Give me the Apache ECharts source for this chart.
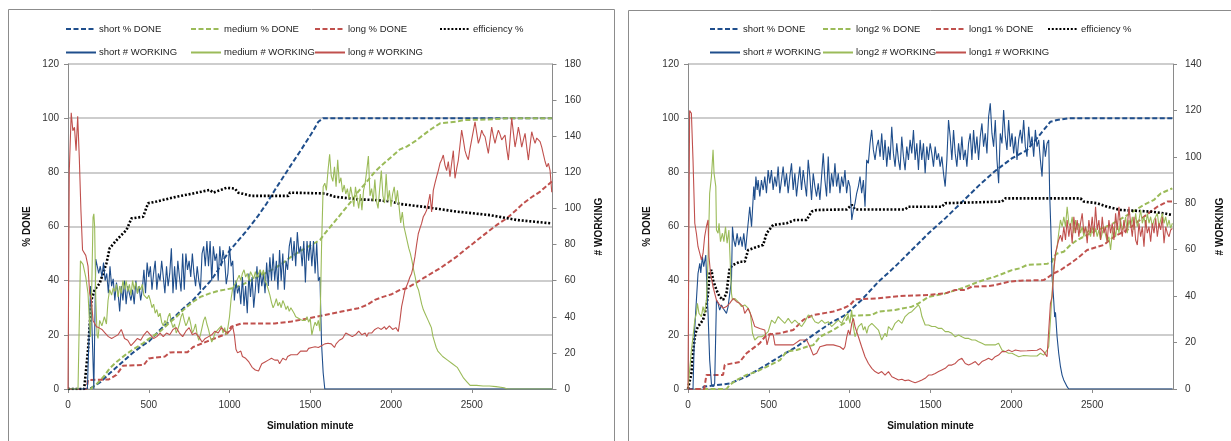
<!DOCTYPE html>
<html><head><meta charset="utf-8">
<script src="https://cdn.jsdelivr.net/npm/echarts/dist/echarts.min.js"></script>
<style>html,body{margin:0;padding:0;background:#fff}#c{width:1231px;height:441px}</style>
</head><body><div id="c"></div>
<script>
// helper: turn a run of readings taken at a regular minute step into [minute, value] pairs
function run(start, step, vals){ return vals.map(function(v,i){ return [Math.round((start+i*step)*10)/10, v]; }); }

// ---------------- LEFT PANEL (short / medium / long) ----------------
const shortDoneL = [[0,0],[130,0],[160,1],[200,2.5],[258,5.8],[300,8],[362,11.3],[400,13.3],[465,16.2],[500,17.5],[569,21.8],[600,23.5],[672,27.3],[700,29],[775,32.9],[800,34.5],[878,39.6],[920,43],[960,47.5],[1000,51],[1050,54.5],[1100,58],[1178,64],[1230,68.5],[1281,73.5],[1330,78],[1384,83],[1440,88],[1488,92.5],[1520,95.5],[1550,98.7],[1580,100],[2996,100]];
const mediumDoneL = [[0,0],[140,0],[180,2],[220,4.5],[258,7.6],[300,10],[362,12.9],[400,14.5],[465,16.9],[500,18.5],[569,21.2],[620,24],[672,26.7],[720,29.5],[775,32.2],[820,34],[878,35.3],[930,36.2],[982,36.8],[1033,37.4],[1074,38.4],[1130,40],[1178,41.5],[1230,43],[1281,44.6],[1330,46.5],[1384,48.9],[1440,51],[1488,52.6],[1530,54],[1560,55],[1591,57.5],[1640,61],[1694,64.9],[1750,69],[1797,72.9],[1850,76.5],[1900,80.2],[1950,83],[2004,85.8],[2056,88.5],[2097,89.5],[2150,91.5],[2200,93.8],[2250,96],[2304,98.1],[2407,98.7],[2448,99.3],[2600,99.5],[2717,100],[2996,100]];
const longDoneL = [[0,0],[115,0],[124,3.3],[250,3.5],[300,5.2],[340,8.6],[470,8.9],[500,11.3],[600,12],[630,13.5],[740,13.6],[775,15.5],[858,17.5],[930,19.2],[985,20.5],[1010,23],[1074,24.2],[1281,24.2],[1384,24.9],[1488,26.1],[1591,27.3],[1694,28.6],[1797,29.8],[1850,31],[1900,32.9],[1950,34],[2004,35],[2056,36.6],[2097,37.2],[2150,39],[2200,40.9],[2250,42.7],[2304,44.6],[2350,46.5],[2407,48.9],[2460,51.5],[2510,53.8],[2560,56.2],[2614,58.7],[2660,60.8],[2717,63],[2770,65.8],[2820,68.6],[2870,70.8],[2924,72.9],[2960,74.8],[2996,76.6]];
const efficiencyL = [[0,0],[100,0],[124,14.4],[145,32.9],[165,36.6],[196,39],[238,46.4],[258,52],[310,55.6],[362,58.7],[393,63],[465,63.6],[496,68.6],[548,69.2],[630,70.4],[672,71],[775,72.2],[878,73.5],[899,72.5],[982,74.3],[1033,74],[1054,72.5],[1137,71.3],[1364,71.3],[1374,72.5],[1591,72.2],[1653,71],[1797,70],[1900,69.8],[2004,69.2],[2056,68.3],[2200,67.3],[2407,65.5],[2614,64.2],[2779,62.4],[2986,61.2]];

const shortWorkL = [[0,0],[120,0],[140,57],[150,30],[160,0],[172,72]].concat(
  run(180,10,[73,64,68,62,70,60,64,53,68,57,61,49,59,53,43,57,49,60,47,57,53,49,55,47,60,53,57,49,55]),
  run(470,10,[66,53,70,62,68,55,64,71,55,64,60,71,62,53,68,57,64,78,53,68,55,71,62,54,75,55,75,66,71,62,75,64,57,68,60,55,75,79,68,82,68,82,60,79,71,75,60,79,68,77,71,58,64,79,68,71]),
  run(1030,10,[49,60,53,57,47,62,46,57,42,64,51,62,45,55,68,53,66,57,64,53,70,57,73]),
  run(1260,10,[60,75,60,71,55,77,60,75,55,71,66,79,84,71,82,68,87,75,79,68,82,59,82,71,82,68,82,64,81,60]),
  [[1560,62],[1570,25],[1580,9],[1590,0],[2996,0]]);

const mediumWorkL = [[0,0],[62,0],[77,71],[93,69],[110,62],[124,53],[130,42],[139,29],[148,60],[155,95],[160,97],[165,90],[172,50],[180,30],[186,28],[196,38],[210,35],[225,40],[238,36],[248,49],[258,55],[270,52],[280,56]].concat(
  run(290,10,[54,58,51,57,53,60,55,60,54,58, 52,60,55,59,53,57,55,58,52,53, 50,52,49,45,47,42,44,40,42,37,
    35,38,36,40,42,37,34,36,31,33, 36,40,42,38,35,37,40,36,31,33, 36,30,27,30,34,38,40,36,33,29,
    26,28,31,30,33,32,35,31,34,30, 34,40,50,56,55,59,61,63,60,64, 66,62,64,60,65,63,61,65,62,64,
    66,63,66,60,58,55,52,48,45,47, 50,46,48,45,49,47,44,46,43,45, 44,42,40,41,39,40,38,39,38,40,
    37,39,30,34,37,35,38,32,79,112, 114,110,121,130,118,115,123,112,127,114, 117,109,113,108,111,105,112,107,101,112,
    106,100,108,99,110,114,121,129,107,111, 104,116,104,100,111,121,107,103,119,104, 110,101,108,112,103,110,101,92,98,90,
    86,82,78,75,71,66,62,57,55,51, 47,44,42,41,38,36,34,29,26,23, 21,20]),
  [[2320,18],[2350,16],[2380,14],[2410,12],[2430,9],[2450,6],[2470,4],[2490,2],[2530,2],[2570,1.7],[2610,1.7],[2650,1.3],[2700,0.7],[2720,0],[2996,0]]);

const longWorkL = [[0,0],[5,0],[8,121],[20,153],[30,143],[40,145],[50,132],[60,151],[70,128],[80,99],[90,77],[100,76],[110,74],[124,68],[134,53],[145,49],[155,38],[176,34.5]].concat(
  run(190,20,[34,33,31,29,28,29,30,33,28,27, 24,26,28,27,30,32,30,28,29,31, 29,31,30,33,34,31,29,32,34,30, 31,29,26,28,29,30,32,31,34,32, 31,33]),
  run(1020,10,[34.5,30,22,20,19,21,18,19,17,18, 15,14,12,13,10.5,11,10,12,14,13, 15,14,16,16,17,18,16,15,16,14,
    15,17,17,16,18,18,19,20,19,20, 19,20,21,21.6,21,22,21,22.5,22,23, 22,23.4,24,23,24,24,23,25,24,25.3,
    26,25,24,23,25,26,27,27,28,29, 31,30.8,30,31,29,29,30,31,32,31.8, 30,29,31,29,31,32,31,32,33,32,
    34,33.6,33,34,34.5,33,34,35,34,33, 34,34]),
  run(2045,10.33,[31.8,38,45.6,50,54.8,57,59.4,62,64,68, 73.3,80,86,89,91.7,95.4,97,99,103,108,
    98,110,114,117.6,121,125,127,129.6,124,121, 126,117.6,125,132,116.7,122,126.8,135,143.4,138,
    132,129,127,133,138,143,148,142,136,139, 143.4,141,139.7,135,130.5,138,145,140,136,140,
    143.4,141,138,137,140.7,133,126.8,138,150,142, 134,139,145,140,134,138,141.6,134,126.8,135,
    142.5,139,136,139,140,137,134,130,126,123, 125,121,109]));

// ---------------- RIGHT PANEL (short / long2 / long1) ----------------
const shortDoneR = [[0,0],[80,0],[100,0.9],[258,2],[362,4.6],[465,8.2],[569,12],[672,15.6],[775,20],[878,24.2],[971,27.3],[1074,32.9],[1178,39.6],[1281,45.2],[1384,51.3],[1488,57.5],[1591,63],[1694,69],[1797,75],[1900,80.5],[2004,85.2],[2097,88.2],[2159,92.6],[2200,95.6],[2242,98.7],[2283,99.3],[2355,100],[2996,100]];
const long2DoneR = [[0,0],[238,0],[258,1.5],[300,3.3],[362,5.2],[424,6.4],[486,8.2],[569,10.7],[610,13.8],[672,14.4],[734,15.6],[775,16.2],[816,19.3],[899,21.8],[971,24.5],[992,27],[1137,27.3],[1178,28.6],[1281,29.2],[1384,30.4],[1426,31.6],[1488,34],[1591,35.3],[1694,37.2],[1797,39.6],[1900,41.5],[2004,43.9],[2056,44.6],[2097,45.8],[2221,46.2],[2252,47],[2262,48.9],[2283,50],[2324,50.7],[2366,53.2],[2407,55],[2469,56.9],[2531,58.7],[2614,60.6],[2717,64.2],[2820,68],[2882,69.8],[2924,72.2],[2996,74.1]];
const long1DoneR = [[0,0],[100,0],[114,5.2],[217,5.2],[227,8.9],[320,10],[362,13.2],[444,16.9],[486,20],[568,20.6],[651,21.8],[713,25.5],[775,27.3],[899,28.6],[961,29.8],[1002,31],[1033,33.1],[1178,33.5],[1302,34.3],[1488,34.7],[1591,35.3],[1653,36.6],[1715,36.6],[1756,37.8],[1859,38],[1900,38.4],[1983,39.6],[2056,40],[2200,40.2],[2221,41],[2262,42.7],[2304,43.9],[2366,46.4],[2407,48.2],[2469,51.3],[2572,53.2],[2634,56.2],[2717,58.7],[2820,63.6],[2903,67.3],[2965,69.2],[2996,69.2]];
const efficiencyR = [[0,0],[10,0],[21,5.8],[31,13.2],[42,19.3],[52,21.8],[62,23],[93,25.5],[114,30.4],[124,35.3],[134,42.7],[145,44],[155,40.2],[176,36.6],[196,34],[217,32.9],[238,35.3],[248,40.2],[258,44.6],[279,45.8],[320,47],[351,47],[372,51.3],[403,52],[465,53.2],[486,57.5],[527,60.6],[610,61.2],[662,62.4],[734,62.4],[765,65.5],[796,66.1],[982,66.3],[1013,68],[1033,66.3],[1343,66.3],[1364,67.3],[1570,67.3],[1591,68.6],[1942,69.2],[1963,70.4],[2428,70.4],[2448,69.2],[2531,68.6],[2593,67.3],[2676,66.1],[2862,65.5],[2944,64.9],[2996,64.2]];

const shortWorkR = [[0,0],[31,0],[40,24],[52,38.3],[62,49.8],[73,54.1],[79,50],[89,57],[97,52.7],[110,57.7],[118,41.2],[124,32.6],[134,12.5],[145,2.2],[155,1],[165,2.4],[176,38.3],[186,36.9],[196,34],[207,36.2],[217,34.8],[227,35.5],[238,32.6],[248,35.5],[258,35.5],[269,47],[275,69.9],[283,64.2],[293,61.3],[304,67.1],[314,62],[325,65.6],[335,61.3],[345,67.1],[356,59.9],[366,67.1],[376,74.2],[382,78.5],[393,69.9],[399,77.1],[407,87.2],[413,81.4],[420,91.5],[428,85.7],[434,90]].concat(
  run(444,10.33,[82.9,90,85.7,91.5,84.3,94.3,88.6,94.3,85.7,91.5, 87.2,95.8,84.3,90,95.8,87.2,92.9,84.3,91.5,97.2,
    85.7,92.9,82.9,90,95.8,85.7,94.3,88.6,82.9,98.7, 91.5,81.4,92.9,87.2,82.9,88.6,81.4,91.5,101.5,90,
    82.9,100.1,84.3,92.9,87.2,97.2,87.2,92.9,84.3,91.5, 87.2,94.3,84.3,90,87.2]),
  [[1013,72.8],[1023,77.1]],
  run(1033,10.33,[80,84.3,87.2,91.5,84.3,90,78.5,98.7,97.2,105.8, 111.6,103,98.7,104.4,107.3,100.1,110.1,98.7,107.3,95.8,
    104.4,98.7,113,101.5,95.8,105.8,98.7,94.3,108.7,100.1, 94.3,104.4,98.7,107.3,101.5,111.6,98.7,105.8,94.3,107.3,
    98.7,105.8,92.9,104.4,98.7,105.8,101.5,95.8,104.4,98.7, 101.5,95.8,100.1,92.9,87.2,98.7,115.9,108.7,98.7,111.6,
    101.5,95.8,105.8,98.7,108.7,98.7,103,95.8,105.8,110.1, 98.7,111.6,101.5,108.7,98.7,108.7,114.4,104.4,110.1,101.5,
    117.3,123.1,110.1,104.4,115.9,98.7,88.6,110.1,105.8,120.2, 108.7,103,115.9,104.4,110.1,101.5,108.7,98.7,107.3,
    111.6,105.8,115.9,104.4,100.1,113,104.4,108.7,100.1,111.6, 104.4,107.3,98.7,91.5,107.3,100.1,105.8,107.3]),
  [[2237,84.3],[2244,69.9],[2252,48.4],[2262,38.3],[2268,31],[2273,33],[2283,22.5],[2293,15.4],[2304,9.6],[2314,6],[2324,3.9],[2335,2.4],[2345,1],[2355,0],[2996,0]]);

const long2WorkR = [[0,0],[4,0],[21,16.8],[31,22.5],[42,29.7],[52,32.6],[58,36.9],[68,32.6],[83,31.2],[93,35.5],[103,32.6],[114,38.3],[124,55.6],[134,84.3],[145,91.5],[155,103],[161,93],[172,87.2],[176,68.5],[186,67.1],[192,71.4],[201,63.5],[213,67.1],[222,63.5],[232,69.9],[242,62.8],[253,68.5],[263,69.2],[269,41.2],[275,38.3],[289,39],[310,37.6],[331,35.5],[351,36.2],[372,34.8],[386,32.6],[399,24],[413,21.1],[434,22.5],[455,22.5],[475,23.3],[496,24.7],[517,29.7],[538,28.3],[558,31.2],[579,29.7],[599,28.3],[620,30.4],[641,28.3],[661,29.7],[682,28.3],[703,26.9],[723,29],[744,31.9],[765,31.2],[785,29],[806,28.3],[827,29.7],[847,28.3],[868,29],[888,26.9],[909,28.3],[930,29.7],[951,28.3],[971,31.2],[988,32.6],[1002,28.3],[1012,34],[1023,26.9],[1033,22.5],[1054,26.9],[1074,28.3],[1085,25.4],[1095,26.9],[1106,24],[1116,26.9],[1137,28.3],[1157,26.9],[1178,25.4],[1198,21.1],[1219,24],[1229,22.5],[1240,26.9],[1261,25.4],[1281,28.3],[1302,29.7],[1323,28.3],[1343,31.2],[1364,32.6],[1384,33.3],[1405,34.8],[1426,36.2],[1436,34.8],[1447,31.2],[1467,27.6],[1488,27.6],[1508,26.9],[1529,26.9],[1550,26.1],[1570,26.1],[1591,24.7],[1612,24.7],[1632,24],[1653,22.5],[1674,23.3],[1694,22.5],[1715,21.8],[1736,21.8],[1756,21.1],[1777,21.1],[1797,20.4],[1818,19.7],[1839,19],[1859,19],[1880,19],[1900,19],[1921,19.7],[1942,16.8],[1963,16.1],[1983,15.4],[2004,15.4],[2025,14.6],[2046,13.9],[2076,14.4],[2118,14.2],[2159,14.2],[2180,15.4],[2200,14.6],[2221,16.8],[2231,18.2],[2242,29.7],[2252,41.2],[2262,52.7],[2273,57.7],[2283,61.3],[2293,67.1]].concat(
  run(2304,10.33,[72.8,69.9,74.2,69.9,78.5,71.4,69.9,74.2,67.1,72.8, 68.5,71.4,67.1,69.9,65.6,69.9,67.1,68.5,65.6,69.9,
    67.1,69.2,65.6,68.5,64.2,67.1,69.9,66.3,63.5,65.6, 59.9,67.1,69.9,65.6,71.4,67.1,72.8,68.5,69.9,74.2,
    67.1,72.8,69.9,74.2,68.5,75.7,69.9,72.8,77.1,71.4, 74.2,69.9,75.7,71.4,74.2,69.9,72.8,74.2,75.7,69.9,
    72.8,75.7,71.4,74.2,69.9,72.8,69.2,71.4]));

const long1WorkR = [[0,0],[4,0],[10,120],[21,118.8],[31,98.7],[42,71.4],[52,67],[62,61.3],[73,58.4],[83,55.6],[93,58.4],[103,65.6],[114,70],[124,72.8],[130,57],[139,49.8],[155,44],[176,38.3],[196,36.2],[217,34.8],[238,35.5],[258,36.9],[279,39],[300,37.6],[320,36.9],[341,35.5],[351,32.6],[372,34.8],[393,31.2],[413,26.9],[444,26.1],[475,25.4],[489,19],[507,24],[527,23.3],[538,19],[568,19],[610,19],[651,19],[693,21.1],[734,21.1],[754,18.2],[775,14.6],[796,15.4],[816,18.2],[858,19],[899,19],[940,18.2],[961,17],[971,18.2],[982,22.5],[992,25.4],[1002,23.3],[1013,28.3],[1023,30.4],[1033,26.9],[1054,22.5],[1074,18.2],[1095,13.9],[1116,11],[1137,8.9],[1157,7.5],[1178,6.7],[1198,7.5],[1219,6],[1240,7.5],[1261,5.3],[1281,4.6],[1302,3.9],[1323,4.2],[1343,3.6],[1364,3.9],[1384,3.2],[1405,2.7],[1426,3.2],[1447,3.9],[1467,4.6],[1488,6],[1508,6],[1529,6.7],[1550,7.5],[1570,8.2],[1591,8.9],[1612,10.3],[1632,10.3],[1653,11],[1674,12.5],[1694,13.2],[1715,11],[1736,10.3],[1756,11],[1777,11.8],[1797,10.3],[1818,11.8],[1839,12.5],[1859,13.2],[1880,12.5],[1900,13.9],[1921,14.6],[1942,16.1],[1963,16.1],[1983,16.8],[2004,16.1],[2025,16.8],[2056,16.4],[2097,16.5],[2159,16.7],[2180,17.4],[2200,16.1],[2221,13.9],[2231,14.6],[2242,36.9],[2252,39.8],[2262,49.8],[2273,58.4],[2283,61.3],[2293,64.2]].concat(
  run(2304,10.33,[66.3,63.5,69.9,64.2,72.8,65.6,71.4,62.8,74.2,67.1, 72.8,65.6,71.4,75.7,67.1,69.9,62.8,72.8,67.1,74.2,
    65.6,78.5,68.5,72.8,64.2,74.2,67.1,69.9,63.5,72.8, 67.1,71.4,64.2,75.7,68.5,78.5,69.9,65.6,72.8,67.1,
    69.9,78.5,71.4,65.6,74.2,64.2,62,71.4,65.6,69.9, 61.3,72.8,67.1,69.9,63.5,71.4,67.1,73.5,65.6,71.4,
    68.5,74.2,62.8,69.9,67.1,65.6,68.5,69.2]));

// ---------------- labels ----------------
const legendLeft = ['short % DONE','medium % DONE','long % DONE','efficiency %','short # WORKING','medium # WORKING','long # WORKING'];
const legendRight = ['short % DONE','long2 % DONE','long1 % DONE','efficiency %','short # WORKING','long2 # WORKING','long1 # WORKING'];
const xTitle = 'Simulation minute';
const yTitleLeft = '% DONE';
const yTitleRight = '# WORKING';

// ---------------- chart ----------------
const FONT = "'Liberation Sans',Arial,sans-serif";
const BLUE = '#1f4e8c', GREEN = '#9bbb59', RED = '#c0504d', AX = '#8a8a8a';

function xAx(g){
  return {gridIndex:g, type:'value', min:0, max:3000, interval:500,
    axisLine:{show:true, lineStyle:{color:AX, width:1}},
    axisTick:{show:true, length:4, lineStyle:{color:AX}},
    axisLabel:{fontSize:10, color:'#333', margin:11, fontFamily:FONT, showMaxLabel:false, formatter:function(v){ return String(v); }},
    splitLine:{show:false},
    name:xTitle, nameLocation:'middle', nameGap:32,
    nameTextStyle:{fontWeight:'bold', fontSize:10, color:'#111', fontFamily:FONT}};
}
function yPct(g){
  return {gridIndex:g, type:'value', min:0, max:120, interval:20, position:'left',
    axisLine:{show:true, lineStyle:{color:AX}},
    axisTick:{show:true, length:4, lineStyle:{color:AX}},
    axisLabel:{fontSize:10, color:'#333', margin:9, fontFamily:FONT},
    splitLine:{show:true, lineStyle:{color:'#bdbdbd', width:1.6}},
    name:yTitleLeft, nameLocation:'middle', nameGap:36, nameRotate:90,
    nameTextStyle:{fontWeight:'bold', fontSize:10, color:'#111', fontFamily:FONT}};
}
function yWork(g, max){
  return {gridIndex:g, type:'value', min:0, max:max, interval:20, position:'right',
    axisLine:{show:true, lineStyle:{color:AX}},
    axisTick:{show:true, length:4, lineStyle:{color:AX}},
    axisLabel:{fontSize:10, color:'#333', margin:12, fontFamily:FONT},
    splitLine:{show:false},
    name:yTitleRight, nameLocation:'middle', nameGap:42, nameRotate:90,
    nameTextStyle:{fontWeight:'bold', fontSize:10, color:'#111', fontFamily:FONT}};
}
function done(name, data, color, xi, yi){
  return {name:name, type:'line', xAxisIndex:xi, yAxisIndex:yi, data:data, symbol:'none', z:3,
    lineStyle:{color:color, width:2, type:[5,2.5]}, itemStyle:{color:color}};
}
function eff(name, data, xi, yi){
  return {name:name, type:'line', xAxisIndex:xi, yAxisIndex:yi, data:data, symbol:'none', z:4,
    lineStyle:{color:'#000', width:2.6, type:[2,1.8]}, itemStyle:{color:'#000'}};
}
function work(name, data, color, xi, yi){
  return {name:name, type:'line', xAxisIndex:xi, yAxisIndex:yi, data:data, symbol:'none', z:5,
    lineStyle:{color:color, width:1.1}, itemStyle:{color:color}};
}
function lg(name, x, y){
  return {left:x, top:y-5, itemWidth:30, itemHeight:10, padding:0, itemGap:0, selectedMode:false,
    itemStyle:{opacity:0},
    data:[name], textStyle:{fontSize:9.5, color:'#222', fontFamily:FONT, padding:[0,0,0,-2]}};
}

const legends = [];
const lx = [65,190,314,439], rx = [709,822,935,1047];
legendLeft.forEach(function(n,i){ legends.push(lg(n, lx[i%4], i<4 ? 29 : 52.5)); });
legendRight.forEach(function(n,i){ legends.push(lg(n, rx[i%4], i<4 ? 29 : 52.5)); });

const option = {
  animation:false,
  backgroundColor:'#fff',
  textStyle:{fontFamily:FONT},
  grid:[{left:68, top:64, width:484.5, height:325}, {left:688, top:64, width:485, height:325}],
  xAxis:[xAx(0), xAx(1)],
  yAxis:[yPct(0), yWork(0,180), yPct(1), yWork(1,140)],
  legend:legends,
  graphic:[
    {type:'rect', silent:true, z:-10, shape:{x:8.5, y:9.5, width:606, height:460}, style:{fill:'none', stroke:'#8c8c8c', lineWidth:1}},
    {type:'rect', silent:true, z:-10, shape:{x:628.5, y:10.5, width:620, height:460}, style:{fill:'none', stroke:'#8c8c8c', lineWidth:1}}
  ],
  series:[
    done('short % DONE', shortDoneL, BLUE, 0, 0),
    done('medium % DONE', mediumDoneL, GREEN, 0, 0),
    done('long % DONE', longDoneL, RED, 0, 0),
    eff('efficiency %', efficiencyL, 0, 0),
    work('short # WORKING', shortWorkL, BLUE, 0, 1),
    work('medium # WORKING', mediumWorkL, GREEN, 0, 1),
    work('long # WORKING', longWorkL, RED, 0, 1),
    done('short % DONE', shortDoneR, BLUE, 1, 2),
    done('long2 % DONE', long2DoneR, GREEN, 1, 2),
    done('long1 % DONE', long1DoneR, RED, 1, 2),
    eff('efficiency %', efficiencyR, 1, 2),
    work('short # WORKING', shortWorkR, BLUE, 1, 3),
    work('long2 # WORKING', long2WorkR, GREEN, 1, 3),
    work('long1 # WORKING', long1WorkR, RED, 1, 3)
  ]
};
echarts.init(document.getElementById('c'), null, {renderer:'canvas'}).setOption(option);
</script>
</body></html>
